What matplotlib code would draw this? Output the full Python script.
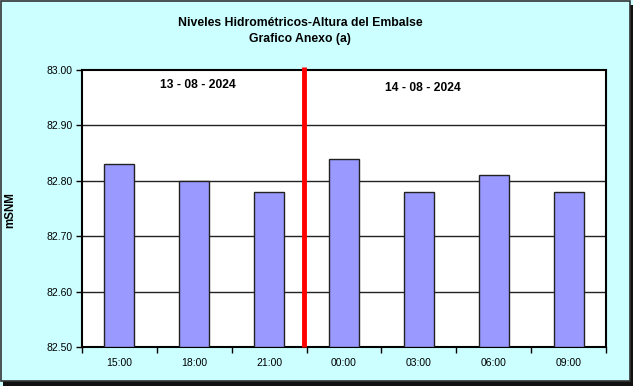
import matplotlib
matplotlib.use("Agg")
import matplotlib.pyplot as plt
from matplotlib.patches import Rectangle

plt.rcParams['font.family'] = ['Liberation Sans', 'DejaVu Sans']

categories = ["15:00", "18:00", "21:00", "00:00", "03:00", "06:00", "09:00"]
values = [82.83, 82.80, 82.78, 82.84, 82.78, 82.81, 82.78]
y_ticks = [82.50, 82.60, 82.70, 82.80, 82.90, 83.00]
day_labels = ["13 - 08 - 2024", "14 - 08 - 2024"]
title = "Niveles Hidrométricos-Altura del Embalse\nGrafico Anexo (a)"

W, H = 633, 386
fig = plt.figure(figsize=(W / 100, H / 100), dpi=100)
fig.patch.set_facecolor('#CCFFFF')

# outer frame with shadow
fig.patches.append(Rectangle((3 / W, 0), 1 - 3 / W, 1 - 5 / H, transform=fig.transFigure,
                             facecolor='#111111', edgecolor='none', zorder=-2))
fig.patches.append(Rectangle((0.5 / W, 5 / H), 1 - 4 / W, 1 - 5.5 / H, transform=fig.transFigure,
                             facecolor='#CCFFFF', edgecolor='#333333', linewidth=1.2, zorder=-1))

left, right, top, bottom = 82, 606, 70, 347
ax = fig.add_axes([left / W, 1 - bottom / H, (right - left) / W, (bottom - top) / H])
ax.set_zorder(5)
ax.set_facecolor('white')

x = list(range(len(categories)))
ax.bar(x, [v - y_ticks[0] for v in values], width=0.4, bottom=y_ticks[0], color='#9999FF',
       edgecolor='#222222', linewidth=1.0, zorder=3)

ax.set_xlim(-0.5, len(categories) - 0.5)
ax.set_ylim(y_ticks[0], y_ticks[-1])
ax.set_yticks(y_ticks)
ax.set_yticklabels([f"{v:.2f}" for v in y_ticks], fontsize=7.5)
ax.set_xticks(x)
ax.set_xticklabels(categories, fontsize=7.5)
ax.set_xticks([i - 0.5 for i in range(len(categories) + 1)], minor=True)
ax.tick_params(axis='x', which='major', length=0, pad=8)
ax.tick_params(axis='x', which='minor', length=4, width=1, direction='out')
ax.tick_params(axis='y', length=4, width=1, direction='out', pad=3)

for v in y_ticks[1:-1]:
    ax.axhline(v, color='#222222', linewidth=1.0, zorder=1)

for s in ax.spines.values():
    s.set_linewidth(1.5)
    s.set_color('black')

# red separator between days
ax.plot([2.47, 2.47], [y_ticks[0], y_ticks[-1] + 0.005], color='red', linewidth=3.5,
        zorder=4, clip_on=False, solid_capstyle='butt')

ax.text(1.05, 82.973, day_labels[0], ha='center', va='center', fontsize=8.7, fontweight='bold')
ax.text(4.05, 82.968, day_labels[1], ha='center', va='center', fontsize=8.7, fontweight='bold')

fig.text(10.5 / W, 1 - 210 / H, "mSNM", rotation=90, ha='center', va='center',
         fontsize=8.3, fontweight='bold')

fig.text(300 / W, 1 - 31 / H, title, ha='center', va='center', fontsize=8.8,
         fontweight='bold', linespacing=1.45)

fig.savefig("out.png", dpi=100, facecolor=fig.get_facecolor())
